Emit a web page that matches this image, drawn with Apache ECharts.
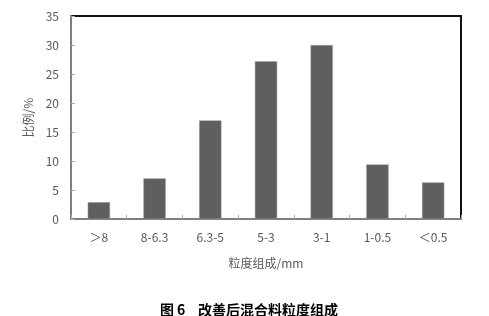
<!DOCTYPE html>
<html><head><meta charset="utf-8">
<script src="https://cdn.jsdelivr.net/npm/echarts@6/dist/echarts.min.js"></script>
<style>html,body{margin:0;padding:0;background:#fff}#c{width:489px;height:316px}</style>
</head><body><div id="c"></div>
<script>
var categories = ['＞8', '8-6.3', '6.3-5', '5-3', '3-1', '1-0.5', '＜0.5'];
var values = [2.9, 7.0, 17.0, 27.2, 30.0, 9.4, 6.3];
var yTicks = [0, 5, 10, 15, 20, 25, 30, 35];
var font = '"Noto Sans CJK SC", "Noto Sans", sans-serif';
var chart = echarts.init(document.getElementById('c'), null, {renderer: 'canvas'});
chart.setOption({
  animation: false,
  title: {
    text: '图 6    改善后混合料粒度组成',
    left: 244, textAlign: 'center', top: 298,
    textStyle: {fontFamily: font, fontSize: 14, fontWeight: 'bold', color: '#000'}
  },
  grid: {left: 71, top: 16, right: 28, bottom: 97, show: true, borderColor: '#111', borderWidth: 2, backgroundColor: '#fff'},
  xAxis: {
    type: 'category', data: categories,
    name: '粒度组成/mm', nameLocation: 'middle', nameGap: 38,
    nameTextStyle: {fontFamily: font, fontSize: 12, color: '#595959'},
    axisLine: {lineStyle: {color: '#7f7f7f', width: 2}},
    axisTick: {show: true, inside: true, length: 4, lineStyle: {color: '#aaa'}},
    axisLabel: {fontFamily: font, fontSize: 12, color: '#595959', margin: 12}
  },
  yAxis: {
    type: 'value', min: 0, max: 35, interval: 5,
    name: '比例/%', nameLocation: 'middle', nameGap: 28, nameRotate: 90,
    nameTextStyle: {fontFamily: font, fontSize: 12, color: '#595959'},
    axisLine: {show: true, lineStyle: {color: '#7f7f7f', width: 2}},
    axisTick: {show: true, inside: true, length: 4, lineStyle: {color: '#aaa'}},
    axisLabel: {fontFamily: font, fontSize: 12, color: '#595959', margin: 12,
      formatter: function (v) { return yTicks.indexOf(v) >= 0 ? String(v) : ''; }},
    splitLine: {show: false}
  },
  series: [{
    type: 'bar', data: values, barWidth: '40%',
    itemStyle: {color: '#5f5f5f', borderColor: '#9a9a9a', borderWidth: 0.5}
  }]
});
</script></body></html>
